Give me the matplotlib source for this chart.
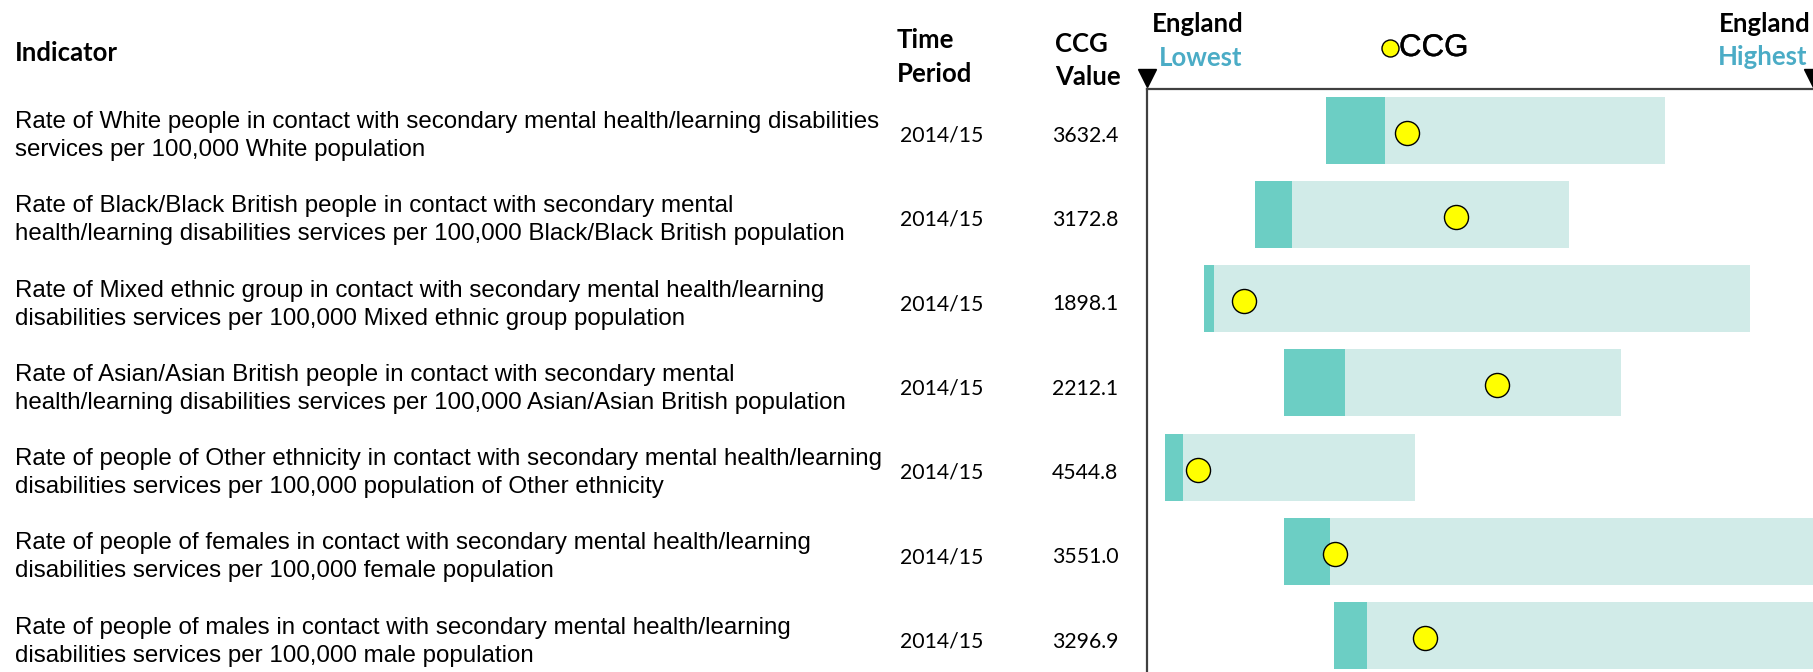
import matplotlib
matplotlib.use("Agg")
import matplotlib.pyplot as plt
import matplotlib.transforms as mtransforms
import matplotlib.patheffects as pe

# ---------------------------------------------------------------- data
indicator_lines = [
    ("Rate of White people in contact with secondary mental health/learning disabilities",
     "services per 100,000 White population"),
    ("Rate of Black/Black British people in contact with secondary mental",
     "health/learning disabilities services per 100,000 Black/Black British population"),
    ("Rate of Mixed ethnic group in contact with secondary mental health/learning",
     "disabilities services per 100,000 Mixed ethnic group population"),
    ("Rate of Asian/Asian British people in contact with secondary mental",
     "health/learning disabilities services per 100,000 Asian/Asian British population"),
    ("Rate of people of Other ethnicity in contact with secondary mental health/learning",
     "disabilities services per 100,000 population of Other ethnicity"),
    ("Rate of people of females in contact with secondary mental health/learning",
     "disabilities services per 100,000 female population"),
    ("Rate of people of males in contact with secondary mental health/learning",
     "disabilities services per 100,000 male population"),
]
time_periods = ["2014/15"] * 7
ccg_values = [3632.4, 3172.8, 1898.1, 2212.1, 4544.8, 3551.0, 3296.9]

# spine positions on a 0 (England lowest) .. 1 (England highest) scale
range_start = [0.269, 0.162, 0.085, 0.206, 0.027, 0.205, 0.281]
quartile_mark = [0.357, 0.218, 0.101, 0.298, 0.054, 0.275, 0.331]
range_end = [0.778, 0.634, 0.905, 0.712, 0.402, 1.0, 1.0]
ccg_position = [0.390, 0.464, 0.146, 0.525, 0.077, 0.283, 0.417]

# ---------------------------------------------------------------- style
W, H = 1813, 672
DARK = "#6CCEC4"
LIGHT = "#D1EBE8"
FRAME = "#404040"
BLUE = "#4BACC6"
BODY_FONT = "Liberation Sans"
HEAD_FONT = "Lato"
ROW_PX = 84.3          # vertical pitch of one indicator row, in pixels
X0_PX, X1_PX = 1147, 1813   # pixels of England lowest / highest

fig = plt.figure(figsize=(W / 100, H / 100), dpi=100)

# spine chart area (extends past the right and bottom edges of the canvas)
ax_top_px, ax_bot_px, ax_right_px = 88.5, 700, 1840
ax = fig.add_axes([X0_PX / W, 1 - ax_bot_px / H,
                   (ax_right_px - X0_PX) / W, (ax_bot_px - ax_top_px) / H])
ax.set_xlim(0, (ax_right_px - X0_PX) / (X1_PX - X0_PX))
first_center_px = 130
ax.set_ylim((ax_bot_px - first_center_px) / ROW_PX,
            (ax_top_px - first_center_px) / ROW_PX)
for side in ("right", "bottom"):
    ax.spines[side].set_visible(False)
for side in ("left", "top"):
    ax.spines[side].set_color(FRAME)
    ax.spines[side].set_linewidth(1.6)
ax.set_xticks([])
ax.set_yticks([])

rows = list(range(len(ccg_values)))
bar_h = 67 / ROW_PX
light_w = [e - s for s, e in zip(range_start, range_end)]
dark_w = [q - s for s, q in zip(range_start, quartile_mark)]
ax.barh(rows, light_w, left=range_start, height=bar_h, color=LIGHT, zorder=1)
ax.barh(rows, dark_w, left=range_start, height=bar_h, color=DARK, zorder=2)
ax.scatter(ccg_position, [r + 2.5 / ROW_PX for r in rows], s=300, c="#FFFF00",
           edgecolors="black", linewidths=1.0, zorder=3)

# England lowest / highest markers above the frame
tri_y = 1 + (ax_top_px - 78) / (ax_bot_px - ax_top_px)
tri_trans = mtransforms.blended_transform_factory(ax.transData, ax.transAxes)
ax.plot([0, 1], [tri_y, tri_y], linestyle="none", marker="v", markersize=13,
        color="black", transform=tri_trans, clip_on=False)

# ---------------------------------------------------------------- text
ov = fig.add_axes([0, 0, 1, 1], zorder=5)
ov.set_xlim(0, W)
ov.set_ylim(H, 0)
ov.axis("off")
ov.patch.set_alpha(0)

row_trans = mtransforms.blended_transform_factory(ov.transData, ax.transData)

for r, (l1, l2) in enumerate(indicator_lines):
    ov.text(15, r - 2.0 / ROW_PX, l1, transform=row_trans, fontsize=17.4,
            family=BODY_FONT, va="baseline", ha="left")
    ov.text(15, r + 26 / ROW_PX, l2, transform=row_trans, fontsize=17.4,
            family=BODY_FONT, va="baseline", ha="left")
    ov.text(900, r + 11.7 / ROW_PX, time_periods[r], transform=row_trans,
            fontsize=15.3, family=HEAD_FONT, va="baseline", ha="left")
    ov.text(1052, r + 11.7 / ROW_PX, f"{ccg_values[r]:.1f}", transform=row_trans,
            fontsize=15.3, family=HEAD_FONT, va="baseline", ha="left")

head = dict(fontsize=18.5, family=HEAD_FONT, fontweight="bold", va="baseline")
ov.text(15, 60.7, "Indicator", ha="left", **head)
ov.text(897, 48.3, "Time", ha="left", **head)
ov.text(897, 81.7, "Period", ha="left", **head)
ov.text(1055, 51.7, "CCG", ha="left", **head)
ov.text(1055, 85, "Value", ha="left", **head)
ov.text(1198, 31.7, "England", ha="center", **head)
ov.text(1201, 65.7, "Lowest", ha="center", color=BLUE, **head)
ov.text(1765, 31.7, "England", ha="center", **head)
ov.text(1763, 65, "Highest", ha="center", color=BLUE, **head)

# key
ov.scatter([1390], [47.5], s=150, c="#FFFF00", edgecolors="black",
           linewidths=1.0)
ov.text(1399, 56, "CCG", fontsize=22.5, family=BODY_FONT, va="baseline",
        ha="left",
        path_effects=[pe.withStroke(linewidth=0.3, foreground="#1a1a1a")])

fig.savefig("out.png", dpi=100)
